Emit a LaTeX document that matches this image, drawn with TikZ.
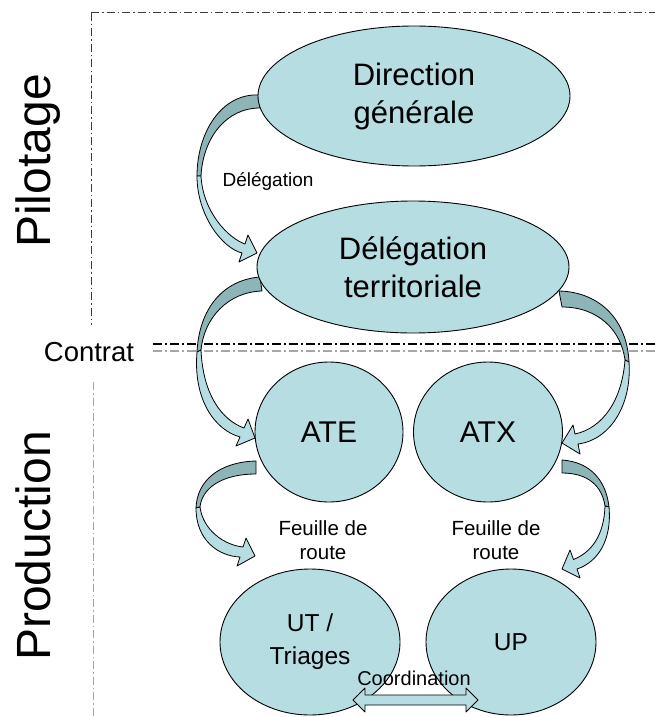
\documentclass[tikz,border=0pt]{standalone}
\usepackage{fontspec}
\setmainfont{Liberation Sans}
\usetikzlibrary{shapes.geometric}
\definecolor{cellfill}{RGB}{182,221,226}
\definecolor{bandback}{RGB}{141,180,183}
\definecolor{framegrey}{RGB}{60,60,60}
\definecolor{lightgrey}{RGB}{165,165,165}
\begin{document}
\begin{tikzpicture}[x=1pt,y=-1pt,
  cell/.style={ellipse, draw, line width=0.9pt, fill=cellfill, inner sep=0pt, align=center},
  bigtext/.style={font=\fontsize{31}{38}\selectfont},
  midtext/.style={font=\fontsize{24.5}{33}\selectfont},
  note/.style={align=center, inner sep=0pt, font=\fontsize{20.5}{24}\selectfont},
  side/.style={rotate=90, anchor=base, inner sep=0pt, font=\fontsize{48}{48}\selectfont},
  sepline/.style={framegrey, line width=1pt, dash pattern=on 8pt off 3pt on 1.5pt off 3pt},
  contratline/.style={line width=1.3pt, dash pattern=on 9pt off 3pt on 2pt off 3pt},
  band/.style={draw, line width=0.8pt, line join=round, fill=cellfill},
  bandrear/.style={band, fill=bandback}]
\useasboundingbox (0,0) rectangle (655,717);
\draw[sepline] (91,13) -- (655,13);
\draw[sepline] (91,13) -- (91,325);
\draw[sepline, lightgrey] (93,382) -- (93,717);
\draw[contratline] (153,344) -- (655,344);
\draw[contratline, lightgrey] (153,351) -- (655,351);
\path[bandrear] (259,95) .. controls (222,93) and (197,132) .. (197,176) -- (201,176) .. controls (203,138) and (226,108) .. (260,108) -- cycle;
\path[band] (197,176) .. controls (197,215) and (222,248) .. (242,253) -- (239,262) -- (257,253) -- (248,235) -- (245,244) .. controls (228,238) and (203,212) .. (201,176) -- cycle;
\path[bandrear] (260,277) .. controls (222,280) and (199,310) .. (197,352) -- (201,350) .. controls (204,318) and (228,292) .. (262,291) -- cycle;
\path[band] (197,352) .. controls (193,400) and (215,430) .. (240,437) -- (236,446) -- (255,438) -- (248,419) -- (244,428) .. controls (222,420) and (203,395) .. (201,350) -- cycle;
\path[bandrear] (559,291) .. controls (600,292) and (627,320) .. (629,362) -- (625,360) .. controls (621,330) and (598,307) .. (562,307) -- cycle;
\path[band] (629,362) .. controls (632,405) and (610,440) .. (578,444) -- (580,454) -- (562,443) -- (573,425) -- (575,434) .. controls (603,428) and (622,400) .. (625,360) -- cycle;
\path[bandrear] (256,461) .. controls (220,462) and (197,480) .. (196,508) -- (200,507) .. controls (202,488) and (222,474) .. (256,474) -- cycle;
\path[band] (196,508) .. controls (196,540) and (218,556) .. (240,557) -- (237,566) -- (255,556) -- (246,538) -- (243,547) .. controls (224,545) and (203,530) .. (200,507) -- cycle;
\path[bandrear] (562,460) .. controls (590,462) and (606,480) .. (609,507) -- (605,506) .. controls (602,486) and (588,473) .. (562,473) -- cycle;
\path[band] (609,507) .. controls (612,540) and (598,562) .. (577,569) -- (580,578) -- (562,569) -- (570,550) -- (573.5,559.5) .. controls (592,552) and (604,535) .. (605,506) -- cycle;
\node[cell, bigtext, minimum width=312pt, minimum height=140pt] (dg) at (414,96) {Direction\\générale};
\node[cell, bigtext, minimum width=312pt, minimum height=132pt] (dt) at (413,267) {Délégation\\territoriale};
\node[cell, font=\fontsize{30}{36}\selectfont, minimum width=148pt, minimum height=140pt] (ate) at (329,432) {ATE};
\node[cell, font=\fontsize{30}{36}\selectfont, minimum width=149pt, minimum height=140pt] (atx) at (488,432) {ATX};
\node[cell, midtext, minimum width=180pt, minimum height=146pt] (ut) at (310,642) {UT /\\Triages};
\node[cell, midtext, minimum width=170pt, minimum height=146pt] (up) at (511,642) {UP};
\path[band] (353,700) -- (365,688) -- (365,695) -- (466,695) -- (466,688) -- (478,700) -- (466,712) -- (466,705) -- (365,705) -- (365,712) -- cycle;
\node[note, font=\fontsize{19}{22}\selectfont] (lbdeleg) at (268,181) {Délégation};
\node[note] (lbfl) at (323,540) {Feuille de\\route};
\node[note] (lbfr) at (496,540) {Feuille de\\route};
\node[note, font=\fontsize{20}{24}\selectfont] (lbcoord) at (414,678) {Coordination};
\node[inner sep=0pt, font=\fontsize{27.5}{30}\selectfont] (lbcontrat) at (89,352) {Contrat};
\node[side] (pilot) at (50,161) {Pilotage};
\node[side] (prod) at (50,546) {Production};
\end{tikzpicture}
\end{document}
